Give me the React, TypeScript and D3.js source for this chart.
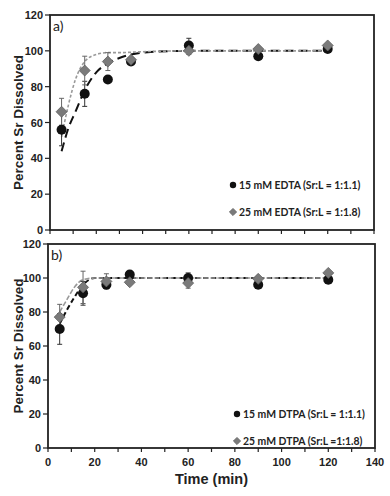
import React from "react";
import * as d3 from "d3";

// sampling times (min)
const times = [5, 15, 25, 35, 60, 90, 120];

// panel a) EDTA
const edta15 = [56, 76, 84, 94, 103, 97, 101];
const edta15Err = [9, 7, 1, 1, 4, 1, 1];
const edta25 = [66, 89, 94, 95, 100, 101, 103];
const edta25Err = [7.5, 8, 5, 1, 2, 1, 1];

// panel b) DTPA
const dtpa15 = [70, 91, 96, 102, 100, 96, 99];
const dtpa15Err = [9, 7, 2, 1, 3, 1, 1];
const dtpa25 = [77, 94.5, 98, 97.5, 97, 99.5, 103];
const dtpa25Err = [7.5, 9.5, 4.5, 1, 3, 1, 1];

// fitted curves
const fitTimes = [5, 8, 11, 15, 20, 25, 30, 40, 60, 90, 120];
const edta15Fit = [44, 57, 66, 78, 88, 93, 96, 99, 100, 100, 100];
const edta25Fit = [52, 70, 84, 94, 98, 99, 99, 99.5, 100, 100, 100];
const dtpa15Fit = [73, 81, 88, 96, 100, 100, 100, 100, 100, 100, 100];
const dtpa25Fit = [80, 87, 94, 99, 100, 100, 100, 100, 100, 100, 100];

const xTicks = [0, 20, 40, 60, 80, 100, 120, 140];
const xMinorTicks = d3.range(0, 141, 10);
const yTicks = [0, 20, 40, 60, 80, 100, 120];

const fontAxis = "'Liberation Sans', Arial, sans-serif";
const fontLegend = "Lato, 'Open Sans', sans-serif";

type PanelProps = {
  top: number;
  bottom: number;
  left: number;
  right: number;
  tag: string;
  s1: number[];
  e1: number[];
  s2: number[];
  e2: number[];
  f1: number[];
  f2: number[];
  label1: string;
  label2: string;
  legendX: number;
  legendY: number;
  showXLabels: boolean;
  dash1: string;
  dash2: string;
};

const Diamond = ({ x, y, r }: { x: number; y: number; r: number }) => (
  <path
    d={`M${x},${y - r}L${x + r},${y}L${x},${y + r}L${x - r},${y}Z`}
    fill="#7a7a7a"
    stroke="#5e5e5e"
    strokeWidth={0.8}
  />
);

const Panel = (p: PanelProps) => {
  const x = d3.scaleLinear().domain([0, 140]).range([p.left, p.right]);
  const y = d3.scaleLinear().domain([0, 120]).range([p.bottom, p.top]);
  const line = d3
    .line<number>()
    .x((d, i) => x(fitTimes[i]))
    .y(d => y(d))
    .curve(d3.curveMonotoneX);

  const errBars = (vals: number[], errs: number[], color: string) =>
    vals.map((v, i) => (
      <g key={i} stroke={color} strokeWidth={1}>
        <line x1={x(times[i])} x2={x(times[i])} y1={y(v - errs[i])} y2={y(v + errs[i])} />
        <line x1={x(times[i]) - 2.5} x2={x(times[i]) + 2.5} y1={y(v - errs[i])} y2={y(v - errs[i])} />
        <line x1={x(times[i]) - 2.5} x2={x(times[i]) + 2.5} y1={y(v + errs[i])} y2={y(v + errs[i])} />
      </g>
    ));

  return (
    <g>
      {/* y ticks */}
      {yTicks.map(t => (
        <g key={t}>
          <line x1={p.left - 5} x2={p.left} y1={y(t)} y2={y(t)} stroke="#222" strokeWidth={1.2} />
          <text
            x={p.left - 7}
            y={y(t) + 4}
            textAnchor="end"
            fontFamily={fontAxis}
            fontWeight="bold"
            fontSize={11}
            fill="#222"
          >
            {t}
          </text>
        </g>
      ))}
      {/* x ticks */}
      {xMinorTicks.map(t => (
        <line key={t} x1={x(t)} x2={x(t)} y1={p.bottom} y2={p.bottom + 4} stroke="#222" strokeWidth={1.2} />
      ))}
      {p.showXLabels &&
        xTicks.map(t => (
          <text
            key={t}
            x={x(t)}
            y={p.bottom + 18}
            textAnchor="middle"
            fontFamily={fontAxis}
            fontWeight="bold"
            fontSize={11}
            fill="#222"
          >
            {t}
          </text>
        ))}
      {/* frame */}
      <rect
        x={p.left}
        y={p.top}
        width={p.right - p.left}
        height={p.bottom - p.top}
        fill="white"
        stroke="#222"
        strokeWidth={1.8}
      />
      <text x={p.left + 3} y={p.top + 16} fontFamily={fontLegend} fontSize={14} fill="#222">
        {p.tag}
      </text>
      {/* fits */}
      <path d={line(p.f1) || ""} fill="none" stroke="#111" strokeWidth={2} strokeDasharray={p.dash1} />
      <path d={line(p.f2) || ""} fill="none" stroke="#9a9a9a" strokeWidth={1.6} strokeDasharray={p.dash2} />
      {/* error bars */}
      {errBars(p.s1, p.e1, "#333")}
      {errBars(p.s2, p.e2, "#666")}
      {/* markers */}
      {p.s1.map((v, i) => (
        <circle key={i} cx={x(times[i])} cy={y(v)} r={5} fill="#111" />
      ))}
      {p.s2.map((v, i) => (
        <Diamond key={i} x={x(times[i])} y={y(v)} r={5.5} />
      ))}
      {/* legend */}
      <circle cx={p.legendX} cy={p.legendY - 3.5} r={3.2} fill="#111" />
      <text x={p.legendX + 6} y={p.legendY} fontFamily={fontLegend} fontWeight="bold" fontSize={10.4} fill="#222">
        {p.label1}
      </text>
      <Diamond x={p.legendX} y={p.legendY + 23.5} r={3.6} />
      <text x={p.legendX + 6} y={p.legendY + 27} fontFamily={fontLegend} fontWeight="bold" fontSize={10.4} fill="#222">
        {p.label2}
      </text>
      {/* y title */}
      <text
        transform={`translate(23, ${(p.top + p.bottom) / 2}) rotate(-90)`}
        textAnchor="middle"
        fontFamily={fontAxis}
        fontWeight="bold"
        fontSize={13.5}
        fill="#222"
      >
        Percent Sr Dissolved
      </text>
    </g>
  );
};

export default function App() {
  return (
    <svg
      width={390}
      height={496}
      style={{ position: "absolute", left: 0, top: 0, background: "white" }}
    >
      <Panel
        top={15}
        bottom={230}
        left={50}
        right={374}
        tag="a)"
        s1={edta15}
        e1={edta15Err}
        s2={edta25}
        e2={edta25Err}
        f1={edta15Fit}
        f2={edta25Fit}
        label1="15 mM EDTA (Sr:L = 1:1.1)"
        label2="25 mM EDTA (Sr:L = 1:1.8)"
        legendX={233}
        legendY={188.5}
        showXLabels={false}
        dash1="9,5"
        dash2="3,2"
      />
      <Panel
        top={244}
        bottom={448}
        left={48}
        right={375}
        tag="b)"
        s1={dtpa15}
        e1={dtpa15Err}
        s2={dtpa25}
        e2={dtpa25Err}
        f1={dtpa15Fit}
        f2={dtpa25Fit}
        label1="15 mM DTPA (Sr:L = 1:1.1)"
        label2="25 mM DTPA (Sr:L =1:1.8)"
        legendX={237}
        legendY={417.5}
        showXLabels={true}
        dash1="5,3"
        dash2="5,2"
      />
      <text
        x={211.5}
        y={484}
        textAnchor="middle"
        fontFamily={fontAxis}
        fontWeight="bold"
        fontSize={14.5}
        fill="#222"
      >
        Time (min)
      </text>
    </svg>
  );
}
